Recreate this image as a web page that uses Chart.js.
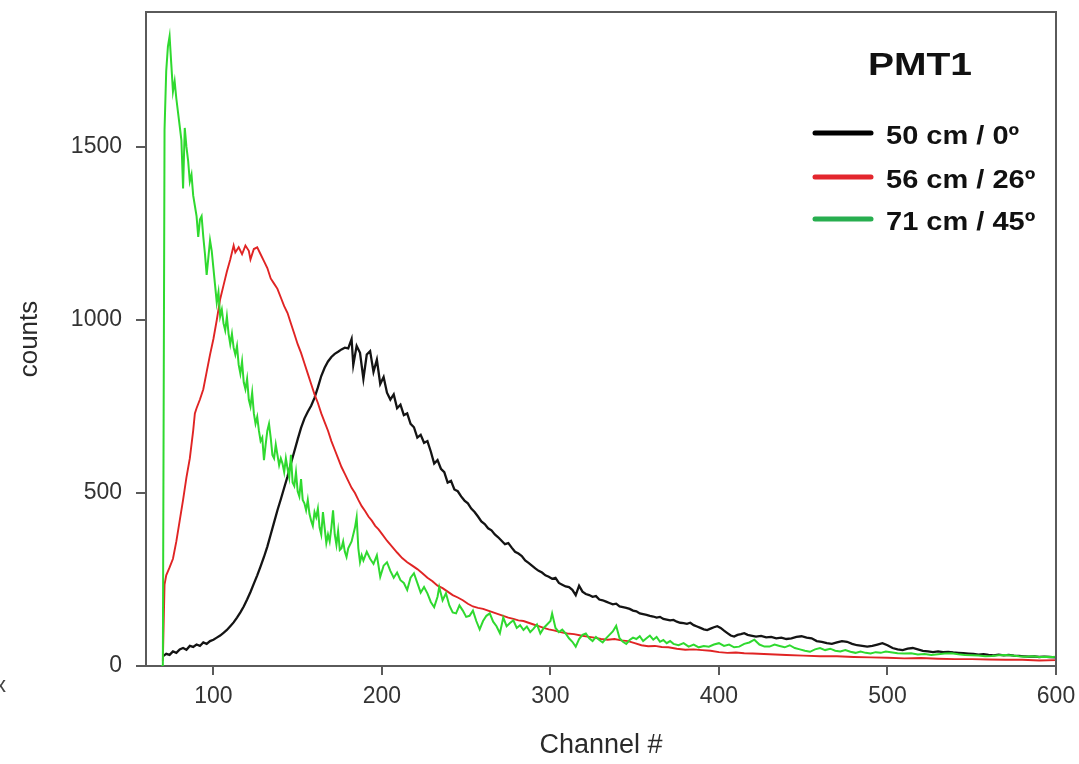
<!DOCTYPE html>
<html>
<head>
<meta charset="utf-8">
<script src="https://cdn.jsdelivr.net/npm/chart.js@4.4.1/dist/chart.umd.min.js"></script>
<style>
  body { margin: 0; background: #fff; }
  canvas { display: block; }
</style>
</head>
<body>
<canvas id="pmtChart" width="1079" height="764"></canvas>
<script>
// Spectra (channel -> counts)
const blackCh = [70,72,74,76,78,80,82,84,86,88,90,92,94,96,98,100,102,104,106,108,110,112,114,116,118,120,122,124,126,128,130,132,134,136,138,140,142,144,146,148,150,152,154,156,158,160,162,164,166,168,170,172,174,176,178,180,182,183,185,187,189,191,193,195,197,199,201,203,205,207,209,211,213,215,217,219,221,223,225,227,229,231,233,235,237,239,241,243,245,247,249,251,253,255,257,259,261,263,265,267,269,271,273,275,277,279,281,283,285,287,289,291,293,295,297,299,301,303,305,307,309,311,313,315,317,319,321,323,325,327,329,331,333,335,337,339,341,343,345,347,349,351,353,355,357,359,361,363,365,367,369,371,373,375,377,379,381,383,385,387,389,391,393,395,397,399,401,403,405,407,409,411,413,415,417,419,422,425,428,431,434,437,440,443,446,449,452,455,458,461,464,467,470,473,476,479,482,485,488,491,494,497,500,503,506,509,512,515,518,521,524,527,530,533,536,539,542,545,548,551,554,557,560,563,566,569,572,575,578,581,584,587,590,593,596,600];
const blackCounts = [28,35,32,42,38,48,52,47,58,55,62,58,68,64,72,76,82,88,96,104,115,126,140,155,172,192,214,238,262,288,315,345,380,415,450,482,515,548,585,620,655,688,715,735,752,775,805,838,862,880,893,902,908,915,920,918,945,870,925,905,830,900,910,850,885,815,835,790,770,785,745,755,725,730,700,690,660,668,645,650,620,585,595,570,560,530,535,510,505,490,478,470,455,445,432,418,410,398,392,380,372,362,352,355,342,330,325,318,305,298,290,282,275,270,262,258,252,255,240,235,230,228,220,205,232,215,208,205,200,202,192,190,186,182,178,180,172,170,168,165,160,158,152,150,148,145,143,140,142,136,134,132,133,128,125,124,122,125,118,114,110,106,104,108,112,115,110,102,95,88,85,90,92,95,90,88,85,87,83,84,80,82,78,80,84,86,82,80,72,70,66,64,68,72,70,64,60,58,56,58,62,66,60,52,48,46,50,52,48,44,42,40,42,40,41,39,38,37,36,35,33,34,32,31,33,31,32,30,29,28,27,28,26,27,26,25];

const redCh = [70,71,72,74,76,78,80,82,84,86,88,89,90,92,94,96,98,100,102,104,106,108,110,112,113,115,117,119,121,122,124,126,128,130,132,134,136,138,140,142,144,146,148,150,152,154,156,158,160,162,164,166,168,170,172,174,176,178,180,182,184,186,188,190,192,194,196,198,200,203,206,209,212,215,218,221,224,227,230,233,236,239,242,245,248,251,254,257,260,263,266,269,272,275,278,281,284,287,290,293,296,299,302,306,310,314,318,322,326,330,334,338,342,346,350,354,358,362,366,370,375,380,385,390,395,400,405,410,415,420,430,440,450,460,470,480,490,500,510,520,530,540,550,560,570,580,590,600];
const redCounts = [15,235,262,285,310,360,420,480,545,600,680,730,745,770,800,850,900,945,1000,1060,1100,1140,1175,1215,1195,1210,1190,1215,1200,1175,1205,1210,1190,1170,1150,1120,1105,1090,1065,1040,1020,990,960,930,905,875,845,815,785,760,730,705,680,650,625,600,575,555,535,515,500,480,462,448,432,420,405,395,382,362,345,328,312,300,290,280,268,255,245,232,225,215,205,198,190,180,172,168,165,160,155,150,145,140,136,132,130,125,120,115,110,106,103,98,94,92,88,85,82,78,76,78,74,72,66,60,57,58,55,54,50,47,48,46,44,40,38,39,37,36,34,32,30,28,28,26,25,24,22,23,21,20,20,19,18,18,16,17];

const greenCh = [69,70,71,72,73,74,75,76,77,78,79,80,81,82,83,84,85,86,87,88,89,90,91,92,93,94,95,96,97,98,99,100,101,102,103,104,105,106,107,108,109,110,111,112,113,114,115,116,117,118,119,120,121,122,123,124,125,126,127,128,129,130,131,132,133,134,135,136,137,138,139,140,141,142,143,144,145,146,147,148,149,150,151,152,153,154,155,156,157,158,159,160,161,162,163,164,165,166,167,168,169,170,171,172,173,174,175,176,177,178,179,180,182,184,185,186,187,188,189,191,193,195,197,199,201,203,205,207,209,211,213,215,217,219,221,223,225,227,229,231,233,234,236,238,240,242,244,246,248,250,252,254,256,258,260,262,264,266,268,270,272,274,276,278,280,282,284,286,288,290,292,294,296,298,300,301,303,305,307,309,311,313,315,317,319,321,323,325,327,329,331,333,335,337,339,341,343,345,347,349,351,353,355,357,359,361,363,365,367,369,371,373,376,379,382,385,388,391,394,397,400,403,406,409,412,415,418,421,424,427,430,433,436,439,442,445,448,451,454,457,460,463,466,469,472,475,478,481,484,487,490,493,496,499,502,506,510,514,518,522,526,530,534,538,542,546,550,554,558,562,566,570,574,578,582,586,590,594,598,600];
const greenCounts = [0,0,1550,1720,1790,1820,1740,1660,1690,1640,1600,1560,1520,1380,1555,1500,1460,1400,1420,1360,1330,1300,1240,1290,1300,1240,1190,1130,1180,1230,1200,1150,1100,1050,1080,1010,1030,990,970,1010,960,930,960,920,900,925,870,845,880,820,800,830,770,750,790,730,700,720,680,650,660,595,640,680,700,660,610,600,640,610,580,600,585,560,600,570,545,610,530,520,560,505,490,540,480,470,450,480,440,420,405,445,430,455,400,380,445,400,355,380,360,400,450,380,350,390,335,340,360,330,315,340,360,400,430,340,300,320,305,330,310,295,320,258,290,300,275,255,270,248,240,220,255,268,240,212,228,210,185,170,200,228,190,210,175,155,152,175,160,142,145,160,130,106,130,145,152,128,115,95,140,115,124,132,110,118,104,114,98,108,120,94,110,120,130,152,110,98,105,94,80,70,56,78,90,94,80,72,84,75,68,80,90,100,116,80,70,64,75,82,78,86,72,80,88,76,84,70,75,66,72,64,60,66,56,62,54,58,56,62,66,58,62,54,56,64,68,76,62,56,56,62,58,54,60,52,48,44,41,48,52,46,50,44,42,46,41,38,42,38,36,40,38,42,40,37,36,37,33,35,32,34,36,37,34,32,31,30,28,29,31,32,30,28,27,28,26,27,26,27];

const xTicks = [100, 200, 300, 400, 500, 600];
const yTicks = [0, 500, 1000, 1500];
const legendTitle = 'PMT1';
const seriesNames = ['50 cm / 0º', '56 cm / 26º', '71 cm / 45º'];
const legendColors = ['#000000', '#e3262d', '#27ae4f'];

const toPoints = (ch, counts) => ch.map((c, i) => ({ x: c, y: counts[i] }));

const FONT = "'Liberation Sans', Arial, sans-serif";
const AXIS_COLOR = '#5a5a5a';

// frame on top/right + text legend inside the plot
const framePlugin = {
    id: 'frame',
    afterDraw(chart) {
        const { ctx, chartArea: a } = chart;
        ctx.save();
        ctx.strokeStyle = AXIS_COLOR;
        ctx.lineWidth = 2;
        ctx.beginPath();
        ctx.moveTo(a.left, a.top);
        ctx.lineTo(a.right, a.top);
        ctx.lineTo(a.right, a.bottom);
        ctx.stroke();

        // legend
        ctx.fillStyle = '#111';
        ctx.textBaseline = 'alphabetic';
        ctx.font = 'bold 32px ' + FONT;
        ctx.textAlign = 'center';
        ctx.save();
        ctx.translate(920, 75);
        ctx.scale(1.22, 1);
        ctx.fillText(legendTitle, 0, 0);
        ctx.restore();

        const rows = [133, 177, 219];
        const baselines = [144, 188, 230];
        ctx.lineCap = 'round';
        ctx.lineWidth = 5;
        ctx.font = 'bold 25px ' + FONT;
        ctx.textAlign = 'left';
        seriesNames.forEach((name, i) => {
            ctx.strokeStyle = legendColors[i];
            ctx.beginPath();
            ctx.moveTo(815, rows[i]);
            ctx.lineTo(871, rows[i]);
            ctx.stroke();
            ctx.save();
            ctx.translate(886, baselines[i]);
            ctx.scale(1.16, 1);
            ctx.fillText(name, 0, 0);
            ctx.restore();
        });

        // cropped glyph at the left edge of the figure
        ctx.fillStyle = '#444';
        ctx.font = '22px ' + FONT;
        ctx.fillText('x', -5, 692);
        ctx.restore();
    }
};

const ctx = document.getElementById('pmtChart').getContext('2d');

new Chart(ctx, {
    type: 'line',
    data: {
        datasets: [{
            label: seriesNames[0],
            data: toPoints(blackCh, blackCounts),
            borderColor: '#141414',
            borderWidth: 2.3,
            order: 3
        }, {
            label: seriesNames[1],
            data: toPoints(redCh, redCounts),
            borderColor: '#e02424',
            borderWidth: 1.9,
            order: 2
        }, {
            label: seriesNames[2],
            data: toPoints(greenCh, greenCounts),
            borderColor: '#2fd92f',
            borderWidth: 2,
            order: 1
        }]
    },
    options: {
        responsive: false,
        animation: false,
        devicePixelRatio: 1,
        layout: { padding: { top: 12, right: 23, bottom: 0, left: 0 } },
        elements: {
            point: { radius: 0 },
            line: { tension: 0 }
        },
        plugins: {
            legend: { display: false },
            tooltip: { enabled: false }
        },
        scales: {
            x: {
                type: 'linear',
                min: 60,
                max: 600,
                afterBuildTicks: (scale) => { scale.ticks = xTicks.map(v => ({ value: v })); },
                afterFit: (scale) => {
                    scale.height = 98;
                    scale.paddingLeft = 0; scale.paddingRight = 0;
                },
                ticks: {
                    color: '#333',
                    font: { family: FONT, size: 23 },
                    padding: 8,
                    maxRotation: 0,
                    callback: (v) => String(v)
                },
                grid: {
                    drawOnChartArea: false,
                    drawTicks: true,
                    tickLength: 9,
                    color: AXIS_COLOR,
                    lineWidth: 2
                },
                border: { color: AXIS_COLOR, width: 2 },
                title: {
                    display: true,
                    text: 'Channel #',
                    color: '#2a2a2a',
                    font: { family: FONT, size: 27 },
                    padding: { top: 0, bottom: 2 }
                }
            },
            y: {
                min: 0,
                max: 1890,
                afterBuildTicks: (scale) => { scale.ticks = yTicks.map(v => ({ value: v })); },
                afterFit: (scale) => {
                    scale.width = 146;
                    scale.paddingTop = 0; scale.paddingBottom = 0;
                },
                ticks: {
                    color: '#333',
                    font: { family: FONT, size: 23 },
                    padding: 14,
                    callback: (v) => String(v)
                },
                grid: {
                    drawOnChartArea: false,
                    drawTicks: true,
                    tickLength: 10,
                    color: AXIS_COLOR,
                    lineWidth: 2
                },
                border: { color: AXIS_COLOR, width: 2 },
                title: {
                    display: true,
                    text: 'counts',
                    color: '#2a2a2a',
                    font: { family: FONT, size: 26 },
                    padding: { top: 14, bottom: 0 }
                }
            }
        }
    },
    plugins: [framePlugin]
});
</script>
</body>
</html>
